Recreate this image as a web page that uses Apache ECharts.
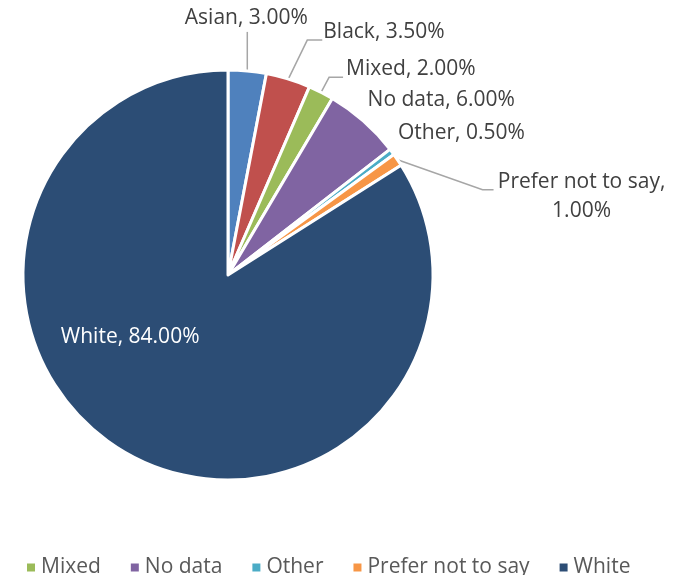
<!DOCTYPE html>
<html>
<head>
<meta charset="utf-8">
<script src="https://cdn.jsdelivr.net/npm/echarts@6/dist/echarts.min.js"></script>
<style>
  html, body { margin: 0; padding: 0; background: #ffffff; }
  #chart { width: 682px; height: 575px; }
</style>
</head>
<body>
<div id="chart"></div>
<script>
// Ethnicity breakdown (percent of respondents)
const categories = ['Asian', 'Black', 'Mixed', 'No data', 'Other', 'Prefer not to say', 'White'];
const shares = [3.0, 3.5, 2.0, 6.0, 0.5, 1.0, 84.0];
const legendItems = ['Mixed', 'No data', 'Other', 'Prefer not to say', 'White'];
const palette = ['#4F81BD', '#C0504D', '#9BBB59', '#8064A2', '#4BACC6', '#F79646', '#2C4D75'];

const FONT = '"Open Sans", "Noto Sans", sans-serif';

// Callout placement, measured from where each slice's mid-angle meets the rim.
const callouts = {
  'Asian':             { text: [-1, -53], align: 'center', line: [[0, -39]] },
  'Black':             { text: [35, -47], align: 'left',   line: [[19, -39], [34, -39]] },
  'Mixed':             { text: [25, -23], align: 'left',   line: [[8, -15], [22, -15]] },
  'No data':           { text: [4, -21],  align: 'left',   line: null },
  'Other':             { text: [6, -19],  align: 'left',   line: null },
  'Prefer not to say': { text: [184, 37], align: 'center', line: [[85, 30], [96, 30]] }
};

const pieData = categories.map((name, i) => {
  const item = { name: name, value: shares[i], itemStyle: { color: palette[i] } };
  if (name === 'White') {
    item.label = { position: 'inside', color: '#ffffff' };
    item.labelLine = { show: false };
  } else if (!callouts[name].line) {
    item.labelLine = { show: true, lineStyle: { opacity: 0 } };
  }
  return item;
});

const chart = echarts.init(document.getElementById('chart'), null, { renderer: 'canvas' });

chart.setOption({
  animation: false,
  backgroundColor: '#ffffff',
  color: palette,
  legend: {
    data: legendItems,
    left: 25,
    top: 557,
    padding: 0,
    icon: 'rect',
    itemWidth: 10,
    itemHeight: 10,
    itemGap: 28,
    textStyle: { fontFamily: FONT, fontSize: 21, color: '#595959' }
  },
  series: [{
    type: 'pie',
    center: [228, 275],
    radius: 205,
    startAngle: 90,
    clockwise: true,
    avoidLabelOverlap: false,
    itemStyle: { borderColor: '#ffffff', borderWidth: 3 },
    emphasis: { disabled: true },
    label: {
      show: true,
      position: 'outside',
      fontFamily: FONT,
      fontSize: 21,
      lineHeight: 29,
      color: '#404040',
      formatter: p => {
        const v = p.value.toFixed(2) + '%';
        return p.name === 'Prefer not to say' ? p.name + ',\n' + v : p.name + ', ' + v;
      }
    },
    labelLine: {
      show: true,
      length: 10,
      length2: 10,
      lineStyle: { color: '#A6A6A6', width: 1.5 }
    },
    labelLayout: params => {
      const name = categories[params.dataIndex];
      if (name === 'White') {
        return { dx: -47, dy: -30 };
      }
      const c = callouts[name];
      const pts = params.labelLinePoints;
      if (!c || !pts) return {};
      const p0 = pts[0];
      const out = {
        x: p0[0] + c.text[0],
        y: p0[1] + c.text[1],
        align: c.align,
        verticalAlign: 'middle'
      };
      if (c.line) {
        const line = [[p0[0], p0[1]]];
        c.line.forEach(d => line.push([p0[0] + d[0], p0[1] + d[1]]));
        if (line.length === 2) line.push(line[1].slice());
        out.labelLinePoints = line;
      }
      return out;
    },
    data: pieData
  }]
});
</script>
</body>
</html>
